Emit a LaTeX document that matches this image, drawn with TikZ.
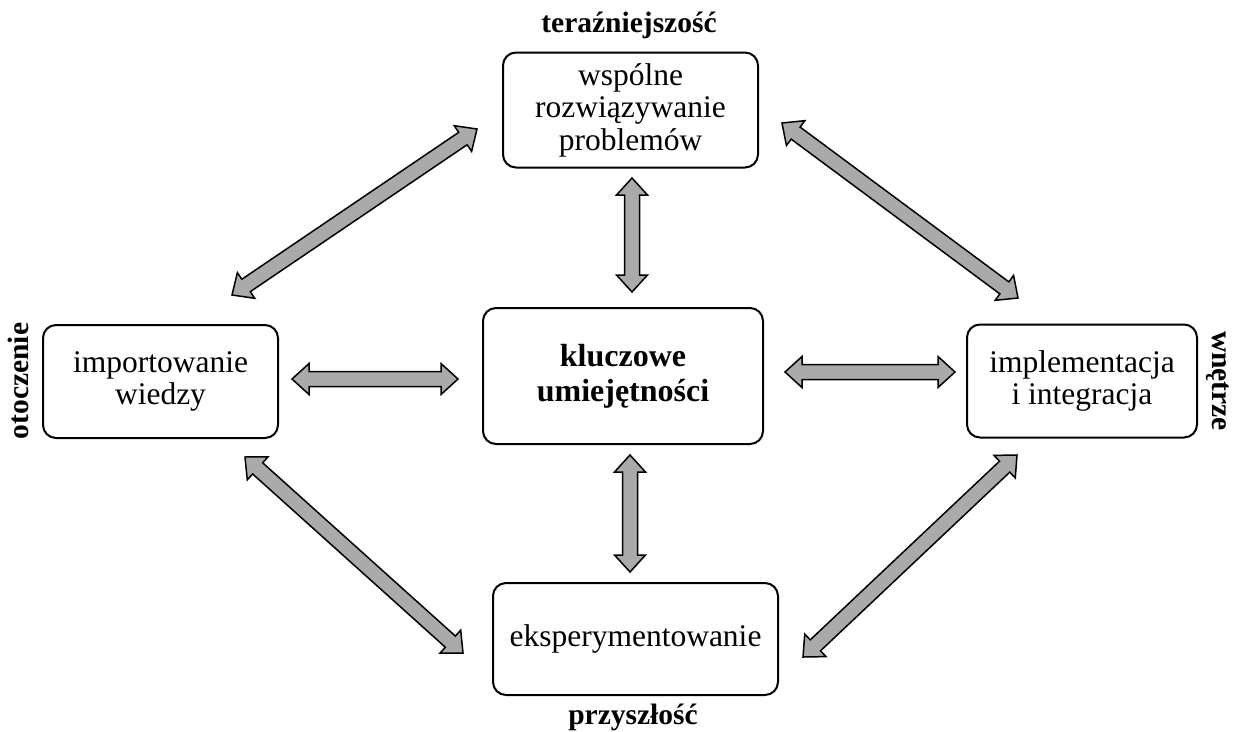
\documentclass[tikz,border=0pt]{standalone}
\usepackage{fontspec}
\setmainfont{Liberation Serif}
\usetikzlibrary{calc}

\definecolor{arrowfill}{RGB}{170,170,170}

% wide double-headed block arrow between two named coordinates
\newcommand\blockarrow[2]{%
  \coordinate (ba-a) at ($(#1)!17pt!(#2)$);
  \coordinate (ba-b) at ($(#2)!17pt!(#1)$);
  \draw[fatarrow]
    (#1)
    -- ($(ba-a)!15.5pt!90:(#2)$) -- ($(ba-a)!7.5pt!90:(#2)$)
    -- ($(ba-b)!7.5pt!-90:(#1)$) -- ($(ba-b)!15.5pt!-90:(#1)$)
    -- (#2)
    -- ($(ba-b)!15.5pt!90:(#1)$) -- ($(ba-b)!7.5pt!90:(#1)$)
    -- ($(ba-a)!7.5pt!-90:(#2)$) -- ($(ba-a)!15.5pt!-90:(#2)$)
    -- cycle;}

\begin{document}
\begin{tikzpicture}[x=1pt,y=-1pt,
  box/.style={draw, line width=2pt, rounded corners=13pt, align=center,
    inner sep=0pt, font=\fontsize{31.5}{32.5}\selectfont},
  keybox/.style={box, font=\fontsize{32}{35}\selectfont\bfseries},
  side/.style={font=\fontsize{29.5}{32}\selectfont\bfseries, inner sep=0pt},
  fatarrow/.style={draw=black, fill=arrowfill, line width=1.5pt, line join=miter}]

\useasboundingbox (0,0) rectangle (1234,731);

% boxes
\node[box, minimum width=255pt, minimum height=115pt] (top) at (630.5,110) {wspólne\\rozwiązywanie\\problemów};
\node[keybox, minimum width=280pt, minimum height=136pt] (mid) at (623,376) {kluczowe\\umiejętności};
\node[box, minimum width=235pt, minimum height=113pt] (left) at (160.5,381.5) {importowanie\\wiedzy};
\node[box, minimum width=230pt, minimum height=113pt] (right) at (1082,381) {implementacja\\i integracja};
\node[box, minimum width=285pt, minimum height=112pt] (bottom) at (635.5,639) {eksperymentowanie};

% side labels
\node[side] (now) at (629,25) {teraźniejszość};
\node[side] (future) at (633,717) {przyszłość};
\node[side, rotate=90] (outside) at (18,381) {otoczenie};
\node[side, rotate=-90] (inside) at (1218,381) {wnętrze};

% arrow end points
\coordinate (tl-a) at (232,295);  \coordinate (tl-b) at (477,129);
\coordinate (tv-a) at (632,178);  \coordinate (tv-b) at (632,292);
\coordinate (tr-a) at (782,123);  \coordinate (tr-b) at (1018,298);
\coordinate (lh-a) at (292,379);  \coordinate (lh-b) at (458,379);
\coordinate (rh-a) at (785,372);  \coordinate (rh-b) at (955,372);
\coordinate (bv-a) at (630,455);  \coordinate (bv-b) at (630,572);
\coordinate (bl-a) at (245,457);  \coordinate (bl-b) at (463,653);
\coordinate (br-a) at (1017,455); \coordinate (br-b) at (803,657);

\blockarrow{tl-a}{tl-b}
\blockarrow{tv-a}{tv-b}
\blockarrow{tr-a}{tr-b}
\blockarrow{lh-a}{lh-b}
\blockarrow{rh-a}{rh-b}
\blockarrow{bv-a}{bv-b}
\blockarrow{bl-a}{bl-b}
\blockarrow{br-a}{br-b}
\end{tikzpicture}
\end{document}
